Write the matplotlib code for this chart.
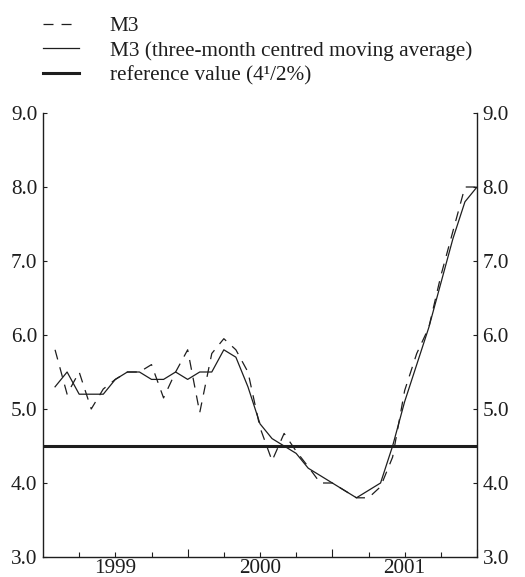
import numpy as np
import matplotlib
matplotlib.use("Agg")
import matplotlib.pyplot as plt
from matplotlib.ticker import FixedLocator, NullFormatter

plt.rcParams['font.family'] = ['Liberation Serif', 'DejaVu Serif']
plt.rcParams['lines.scale_dashes'] = False

# monthly positions (1 = Jan 1999 ... 36 = Dec 2001)
months = np.arange(1, 37)
m3 = [5.8, 5.2, 5.5, 5.0, 5.27, 5.4, 5.5, 5.5, 5.6, 5.15, 5.5, 5.8,
      4.95, 5.75, 5.95, 5.8, 5.5, 4.75, 4.3, 4.67, 4.43, 4.22, 4.0, 4.0,
      3.9, 3.8, 3.8, 3.95, 4.35, 5.25, 5.75, 6.1, 6.8, 7.4, 8.0, 8.0]
m3_ma = [5.3, 5.5, 5.2, 5.2, 5.2, 5.4, 5.5, 5.5, 5.4, 5.4, 5.5, 5.4,
         5.5, 5.5, 5.8, 5.7, 5.3, 4.8, 4.6, 4.5, 4.4, 4.2, 4.1, 4.0,
         3.9, 3.8, 3.9, 4.0, 4.5, 5.1, 5.6, 6.1, 6.7, 7.3, 7.8, 8.0]
reference_value = 4.5
year_labels = ["1999", "2000", "2001"]
year_label_pos = [6, 18, 30]
y_ticks = [3.0, 4.0, 5.0, 6.0, 7.0, 8.0, 9.0]
legend_labels = ["M3", "M3 (three-month centred moving average)",
                 "reference value (4\u00b9/2%)"]

ink = '#1e1e1e'
fs = 15.3

fig = plt.figure(figsize=(5.25, 5.77), dpi=100)
ax = fig.add_axes([43/525, 1-557/577, (477-43)/525, (557-113)/577])

l1, = ax.plot(months, m3, color=ink, lw=0.9, linestyle=(0, (7.2, 5.8)))
l2, = ax.plot(months, m3_ma, color=ink, lw=0.9)
l3 = ax.axhline(reference_value, color=ink, lw=2.2)

ax.set_xlim(0, 36)
ax.set_ylim(3.0, 9.0)

ax.spines['top'].set_visible(False)
for s in ['left', 'right', 'bottom']:
    ax.spines[s].set_color(ink)
    ax.spines[s].set_linewidth(1.0)

ax.set_yticks(y_ticks)
ax.set_yticklabels([f"{v:.1f}" for v in y_ticks])
ax.tick_params(axis='y', direction='in', length=3, width=0.8, colors=ink,
               labelsize=fs, left=True, right=True, labelleft=True,
               labelright=True, pad=4)

# x: major ticks at year boundaries, minor at quarters, labels at mid-year
ax.xaxis.set_major_locator(FixedLocator([12, 24, 36]))
ax.xaxis.set_major_formatter(NullFormatter())
ax.xaxis.set_minor_locator(FixedLocator([3, 6, 9, 15, 18, 21, 27, 30, 33]))
ax.xaxis.set_minor_formatter(NullFormatter())
ax.tick_params(axis='x', which='major', direction='in', length=6, width=0.8,
               colors=ink)
ax.tick_params(axis='x', which='minor', direction='in', length=3.5, width=0.8,
               colors=ink)
for lab, pos in zip(year_labels, year_label_pos):
    ax.text(pos, -0.005, lab, transform=ax.get_xaxis_transform(),
            ha='center', va='top', fontsize=fs, color=ink)

leg = fig.legend([l1, l2, l3], legend_labels, loc='upper left',
                 bbox_to_anchor=(0.045, 1.005), frameon=False, fontsize=fs,
                 handlelength=1.7, handletextpad=1.45, labelspacing=0.22,
                 labelcolor=ink)

fig.savefig("out.png", dpi=100)
